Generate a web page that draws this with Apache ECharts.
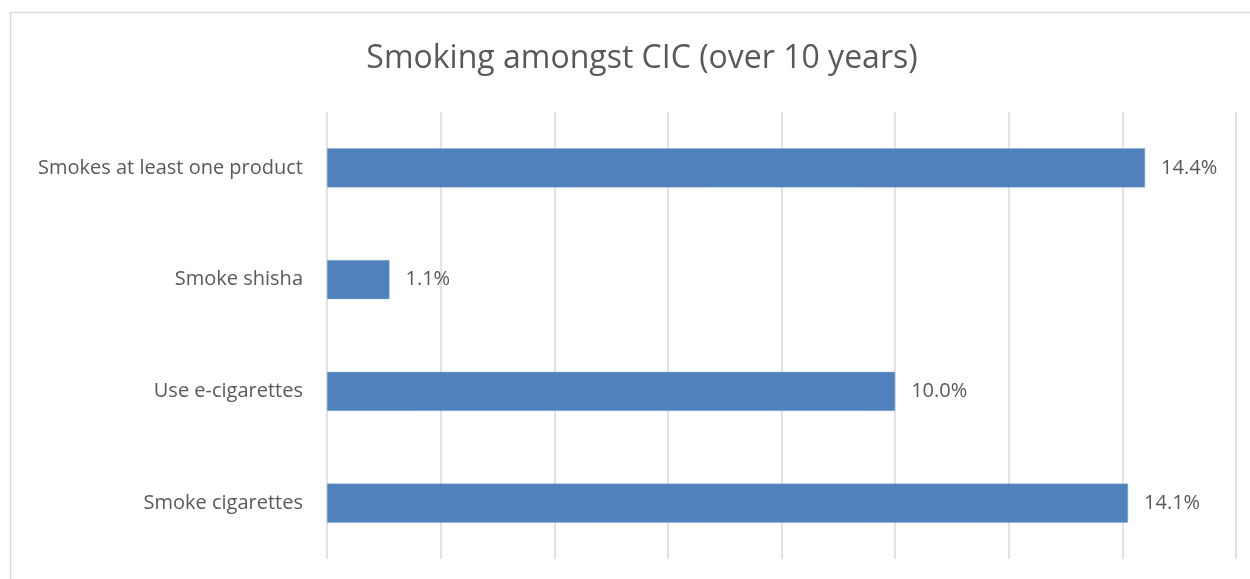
<!DOCTYPE html>
<html>
<head>
<meta charset="utf-8">
<script src="https://cdn.jsdelivr.net/npm/echarts@6/dist/echarts.min.js"></script>
<style>
  html, body { margin: 0; padding: 0; background: #ffffff; }
  #chart { width: 1250px; height: 579px; }
</style>
</head>
<body>
<div id="chart"></div>
<script>
// Categories listed bottom-to-top as the category axis draws them
const categories = ['Smoke cigarettes', 'Use e-cigarettes', 'Smoke shisha', 'Smokes at least one product'];
// Share of respondents, in percent
const shares = [14.1, 10.0, 1.1, 14.4];
const axisMin = 0;
const axisMax = 16;
const axisStep = 2;

const textColor = '#595959';
const gridColor = '#d9d9d9';
const barColor = '#4f81bd';
const fontFamily = '"Open Sans", "Noto Sans", sans-serif';

const chart = echarts.init(document.getElementById('chart'), null, { renderer: 'canvas' });
chart.setOption({
  animation: false,
  backgroundColor: '#ffffff',
  title: {
    text: 'Smoking amongst CIC (over 10 years)',
    left: 637,
    textAlign: 'center',
    top: 38,
    textStyle: { color: textColor, fontSize: 32, fontWeight: 'normal', fontFamily: fontFamily }
  },
  graphic: [{
    type: 'rect',
    shape: { x: 10.5, y: 12.5, width: 1300, height: 700 },
    style: { fill: 'none', stroke: gridColor, lineWidth: 1.5 },
    silent: true,
    z: -1
  }],
  grid: { left: 327, right: 14, top: 112, bottom: 20, containLabel: false },
  xAxis: {
    type: 'value',
    min: axisMin,
    max: axisMax,
    interval: axisStep,
    axisLabel: { show: false },
    axisLine: { show: false },
    axisTick: { show: false },
    splitLine: { show: true, lineStyle: { color: gridColor, width: 1.5 } }
  },
  yAxis: {
    type: 'category',
    data: categories,
    axisLine: { show: false },
    axisTick: { show: false },
    axisLabel: { color: textColor, fontSize: 20, fontFamily: fontFamily, margin: 24 }
  },
  series: [{
    type: 'bar',
    data: shares,
    barWidth: '35%',
    itemStyle: { color: barColor, borderColor: '#8eb0d8', borderWidth: 0.5 },
    label: {
      show: true,
      position: 'right',
      distance: 16,
      color: textColor,
      fontSize: 20,
      fontFamily: fontFamily,
      formatter: p => p.value.toFixed(1) + '%'
    }
  }]
});
</script>
</body>
</html>
